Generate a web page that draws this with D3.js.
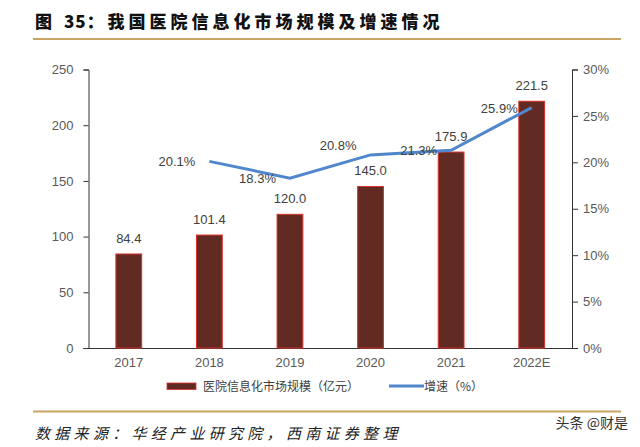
<!DOCTYPE html>
<html>
<head>
<meta charset="utf-8">
<script src="https://cdn.jsdelivr.net/npm/d3@7"></script>
<style>
  body { margin: 0; background: #fff; }
  svg { display: block; }
  .num { font-family: "Liberation Sans", Arial, sans-serif; }
  .cjk { font-family: "Noto Sans CJK SC", sans-serif; }
</style>
</head>
<body>
<svg id="chart" width="640" height="447"></svg>
<script>
// data
const years = ["2017", "2018", "2019", "2020", "2021", "2022E"]
const marketSize = [84.4, 101.4, 120.0, 145.0, 175.9, 221.5]
const growth = [null, 20.1, 18.3, 20.8, 21.3, 25.9]
const leftTicks = [0, 50, 100, 150, 200, 250]
const rightTicks = [0, 5, 10, 15, 20, 25, 30]

const titleParts = ["图 ", "35", "：我国医院信息化市场规模及增速情况"]
const sourceText = "数据来源：华经产业研究院，西南证券整理"
const legendBar = "医院信息化市场规模（亿元）"
const legendLine = "增速（%）"

const svg = d3.select("#chart")
svg.append("rect").attr("width", 640).attr("height", 447).attr("fill", "#fff")

const plotLeft = 88.5, plotRight = 572, plotTop = 69.5, plotBottom = 348

let x = d3.scaleBand().domain(years).range([plotLeft, plotRight])
  .paddingInner(0.68).paddingOuter(0.34)
let yL = d3.scaleLinear().domain([0, 250]).range([plotBottom, plotTop])
let yR = d3.scaleLinear().domain([0, 30]).range([plotBottom, plotTop])

// title + rules
let title = svg.append("text").attr("class", "cjk")
  .attr("x", 35).attr("y", 28)
  .attr("font-size", 17).attr("font-weight", 900)
  .attr("fill", "#111")
title.selectAll("tspan").data(titleParts).enter()
  .append("tspan")
  .attr("letter-spacing", (d, i) => i === 1 ? 1 : 4)
  .text(d => d)

svg.append("line").attr("x1", 33).attr("x2", 621).attr("y1", 39).attr("y2", 39)
  .attr("stroke", "#c9a463").attr("stroke-width", 2)
svg.append("line").attr("x1", 33).attr("x2", 621).attr("y1", 411.5).attr("y2", 411.5)
  .attr("stroke", "#c9a463").attr("stroke-width", 2)

// axes
let leftAxis = svg.append("g").attr("transform", `translate(${plotLeft},0)`)
  .call(d3.axisLeft(yL).tickValues(leftTicks).tickSize(5).tickPadding(10))
let rightAxis = svg.append("g").attr("transform", `translate(${plotRight},0)`)
  .call(d3.axisRight(yR).tickValues(rightTicks).tickSize(6).tickPadding(5)
    .tickFormat(d => d + "%"))
let bottomAxis = svg.append("g").attr("transform", `translate(0,${plotBottom})`)
  .call(d3.axisBottom(x).tickSize(0).tickPadding(10))

;[leftAxis, rightAxis, bottomAxis].forEach(g => {
  g.select(".domain").attr("stroke", "#333")
  g.selectAll(".tick line").attr("stroke", "#333")
  g.selectAll("text").attr("class", "num").attr("font-size", 13).attr("fill", "#595959")
})
bottomAxis.select(".domain").attr("d", `M${plotLeft - 5},0.5H${plotRight + 6}`)

// bars
svg.selectAll(".bar").data(years).enter()
  .append("rect")
  .attr("class", "bar")
  .attr("x", d => x(d))
  .attr("width", x.bandwidth())
  .attr("y", (d, i) => yL(marketSize[i]))
  .attr("height", (d, i) => plotBottom - yL(marketSize[i]))
  .attr("fill", "#612b24")
  .attr("stroke", "#d9302b")
  .attr("stroke-width", 1)

svg.selectAll(".barLabel").data(years).enter()
  .append("text")
  .attr("class", "num")
  .attr("x", d => x(d) + x.bandwidth() / 2)
  .attr("y", (d, i) => yL(marketSize[i]) - 11)
  .attr("text-anchor", "middle")
  .attr("font-size", 13)
  .attr("fill", "#404040")
  .text((d, i) => marketSize[i].toFixed(1))

// growth line
let linePts = years.map((d, i) => ({ year: d, v: growth[i] })).filter(d => d.v !== null)
let line = d3.line().x(d => x(d.year) + x.bandwidth() / 2).y(d => yR(d.v))
svg.append("path").datum(linePts)
  .attr("d", line)
  .attr("fill", "none")
  .attr("stroke", "#4f86cc")
  .attr("stroke-width", 3)

// label nudges so they sit like in the picture
let labelShift = { "2020": -10 }
svg.selectAll(".lineLabel").data(linePts).enter()
  .append("text")
  .attr("class", "num")
  .attr("x", d => x(d.year) + x.bandwidth() / 2 - 14)
  .attr("y", d => yR(d.v) + (labelShift[d.year] || 0) + 5)
  .attr("text-anchor", "end")
  .attr("font-size", 13)
  .attr("fill", "#404040")
  .text(d => d.v.toFixed(1) + "%")

// legend
svg.append("rect").attr("x", 167).attr("y", 383).attr("width", 29).attr("height", 6.5)
  .attr("fill", "#612b24").attr("stroke", "#d9302b").attr("stroke-width", 0.8)
svg.append("text").attr("class", "cjk").attr("x", 203).attr("y", 390.5)
  .attr("font-size", 12).attr("fill", "#404040").text(legendBar)
svg.append("line").attr("x1", 389).attr("x2", 424).attr("y1", 386).attr("y2", 386)
  .attr("stroke", "#4f86cc").attr("stroke-width", 3)
svg.append("text").attr("class", "cjk").attr("x", 424).attr("y", 390.5)
  .attr("font-size", 12).attr("fill", "#404040").text(legendLine)

// source + watermark
svg.append("text").attr("class", "cjk")
  .attr("x", 35).attr("y", 439)
  .attr("font-size", 15).attr("font-style", "italic")
  .attr("letter-spacing", 4.3)
  .attr("fill", "#222")
  .text(sourceText)

svg.append("text").attr("class", "cjk")
  .attr("x", 628).attr("y", 428)
  .attr("text-anchor", "end")
  .attr("font-size", 14)
  .attr("fill", "#333")
  .text("头条 @财是")
</script>
</body>
</html>
